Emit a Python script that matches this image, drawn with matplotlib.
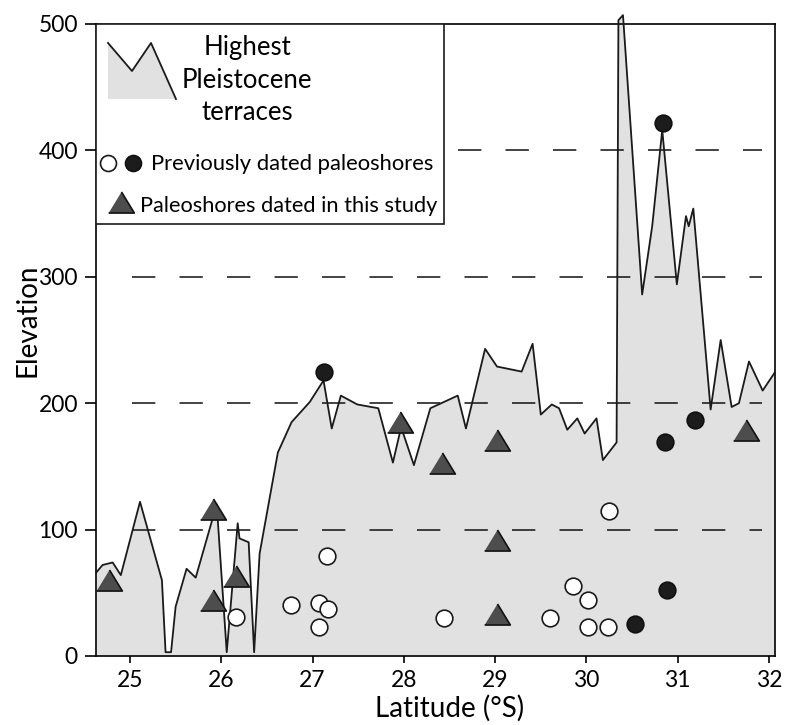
import numpy as np
import matplotlib
matplotlib.use("Agg")
import matplotlib.pyplot as plt
from matplotlib.patches import Rectangle, Polygon

plt.rcParams['font.family'] = ['Lato', 'DejaVu Sans']

# highest Pleistocene terrace profile (latitude °S, elevation m)
terrace_lat = [24.63, 24.70, 24.81, 24.90, 25.11, 25.35, 25.39, 25.45, 25.50, 25.62,
               25.72, 25.95, 26.06, 26.18, 26.20, 26.30, 26.36, 26.42, 26.62, 26.77,
               26.97, 27.12, 27.21, 27.31, 27.49, 27.72, 27.88, 27.97, 28.11, 28.29,
               28.59, 28.68, 28.89, 29.02, 29.29, 29.41, 29.50, 29.62, 29.70, 29.79,
               29.90, 29.98, 30.11, 30.18, 30.33, 30.35, 30.40, 30.61, 30.72, 30.83,
               30.99, 31.09, 31.12, 31.17, 31.36, 31.47, 31.59, 31.67, 31.78, 31.93,
               32.06]
terrace_elev = [66, 72, 74, 64, 122, 60, 3, 3, 39, 69,
                62, 120, 3, 105, 93, 90, 3, 81, 161, 185,
                201, 218, 180, 206, 199, 196, 153, 181, 151, 196,
                206, 180, 243, 229, 225, 247, 191, 199, 196, 179,
                188, 176, 188, 155, 169, 503, 507, 286, 340, 416,
                294, 348, 340, 354, 195, 250, 197, 200, 233, 210,
                224]

# previously dated paleoshores (open / filled symbols)
prev_open_lat = [26.16, 26.76, 27.07, 27.17, 27.07, 27.16, 28.44, 29.60, 29.85, 30.02,
                 30.02, 30.24, 30.25]
prev_open_elev = [31, 40, 42, 37, 23, 79, 30, 30, 55, 44, 23, 23, 115]
prev_filled_lat = [27.12, 30.84, 30.86, 31.19, 30.53, 30.88]
prev_filled_elev = [225, 422, 169, 187, 25, 52]

# paleoshores dated in this study
study_lat = [24.77, 25.91, 25.91, 26.16, 27.96, 28.42, 29.02, 29.02, 29.02, 31.75]
study_elev = [60, 116, 44, 63, 185, 153, 171, 92, 33, 179]

ref_levels = [100, 200, 300, 400]
xticks = [25, 26, 27, 28, 29, 30, 31, 32]
yticks = [0, 100, 200, 300, 400, 500]

FILL = '#e1e1e1'
TRI = '#4d4d4d'
DOT = '#1c1c1c'
tri_marker = [(-1, -0.82), (1, -0.82), (0, 0.82)]

fig = plt.figure(figsize=(7.85, 7.25), dpi=100)
ax = fig.add_axes([96 / 785, 1 - 656 / 725, 679 / 785, 632 / 725])

ax.fill_between(terrace_lat, terrace_elev, 0, color=FILL, lw=0, zorder=1, clip_on=False)
for lev in ref_levels:
    x0 = 28.593 if lev == 400 else 25.022
    ax.plot([x0, 31.922], [lev, lev], color='#222222', lw=1.2,
            ls=(0, (14, 14.5)), zorder=2)
ax.plot(terrace_lat, terrace_elev, color='#1a1a1a', lw=1.3, zorder=3, clip_on=False)

ax.plot(prev_open_lat, prev_open_elev, 'o', ms=12, mfc='white', mec='#1a1a1a',
        mew=1.2, ls='none', zorder=4)
ax.plot(prev_filled_lat, prev_filled_elev, 'o', ms=12, mfc=DOT, mec='#111111',
        mew=1.2, ls='none', zorder=4)
ax.plot(study_lat, study_elev, marker=tri_marker, ms=18.5, mfc=TRI, mec='#111111',
        mew=1.2, ls='none', zorder=4)

ax.set_xlim(24.628, 32.065)
ax.set_ylim(0, 500)
ax.set_xticks(xticks)
ax.set_yticks(yticks)
ax.tick_params(axis='y', direction='out', length=8, width=1.2, pad=5, labelsize=16.5)
ax.tick_params(axis='x', direction='out', length=5, width=1.2, pad=5, labelsize=16.5)
for sp in ax.spines.values():
    sp.set_linewidth(1.2)

ax.set_xlabel('Latitude (°S)', fontsize=20)
ax.xaxis.set_label_coords((450 - 96) / 679, -0.061)
ax.set_ylabel('Elevation', fontsize=20)
ax.yaxis.set_label_coords(-0.082, (656 - 320) / 632)

# legend drawn by hand (axes fraction coordinates)
tr = ax.transAxes
ax.add_patch(Rectangle((0, 0.6835), 0.5125, 0.3165, transform=tr, fill=True,
                       fc='white', ec='#1a1a1a', lw=1.2, zorder=5))
icon = [(0.0177, 0.970), (0.0530, 0.9256), (0.0810, 0.970), (0.1178, 0.8813)]
ax.add_patch(Polygon(icon + [(0.0177, 0.8813)], closed=True, transform=tr,
                     fc=FILL, ec='none', zorder=6))
ax.plot([p[0] for p in icon], [p[1] for p in icon], color='#1a1a1a', lw=1.3,
        transform=tr, zorder=7)
for txt, yy in zip(['Highest', 'Pleistocene', 'terraces'], [0.951, 0.899, 0.848]):
    ax.text(0.2224, yy, txt, transform=tr, ha='center', va='baseline',
            fontsize=18.5, zorder=7)
ax.plot([0.0177], [0.7801], 'o', ms=11.5, mfc='white', mec='#1a1a1a', mew=1.2,
        transform=tr, zorder=7, clip_on=False)
ax.plot([0.0545], [0.7801], 'o', ms=11.5, mfc=DOT, mec='#111111', mew=1.2,
        transform=tr, zorder=7, clip_on=False)
ax.text(0.081, 0.769, 'Previously dated paleoshores', transform=tr, ha='left',
        va='baseline', fontsize=15.8, zorder=7)
ax.plot([0.0368], [0.7184], marker=tri_marker, ms=18.5, mfc=TRI, mec='#111111',
        mew=1.2, transform=tr, zorder=7, clip_on=False)
ax.text(0.0648, 0.7025, 'Paleoshores dated in this study', transform=tr, ha='left',
        va='baseline', fontsize=15.7, zorder=7)

fig.savefig('out.png', dpi=100)
